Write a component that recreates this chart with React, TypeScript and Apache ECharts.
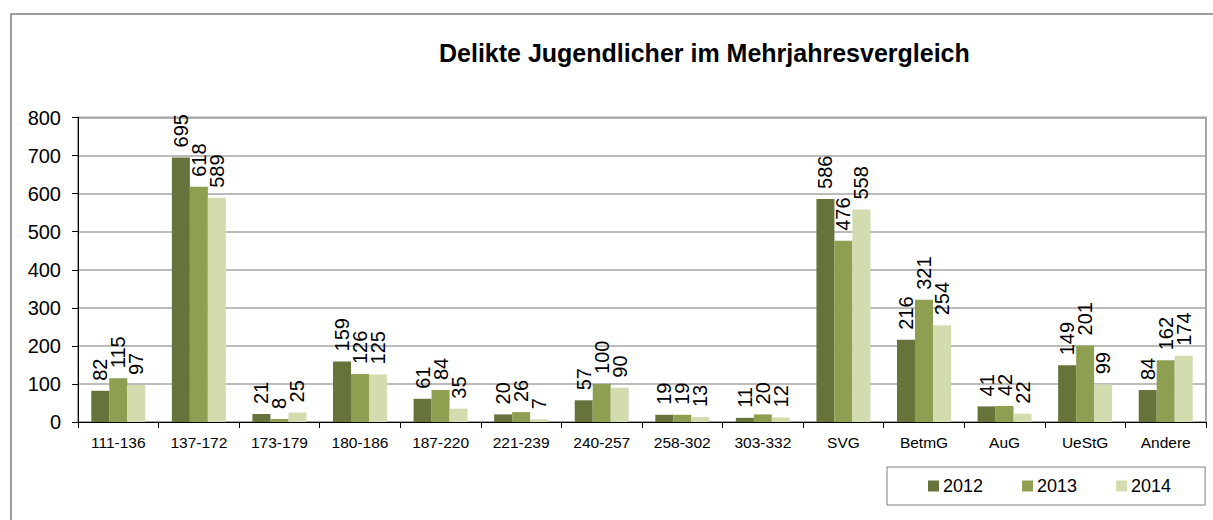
import React, { useEffect, useRef } from "react";
import * as echarts from "echarts";

const categories = ["111-136", "137-172", "173-179", "180-186", "187-220", "221-239", "240-257", "258-302", "303-332", "SVG", "BetmG", "AuG", "UeStG", "Andere"];
const values2012 = [82, 695, 21, 159, 61, 20, 57, 19, 11, 586, 216, 41, 149, 84];
const values2013 = [115, 618, 8, 126, 84, 26, 100, 19, 20, 476, 321, 42, 201, 162];
const values2014 = [97, 589, 25, 125, 35, 7, 90, 13, 12, 558, 254, 22, 99, 174];
const yTicks = [0, 100, 200, 300, 400, 500, 600, 700, 800];

const FONT = "'Liberation Sans', Arial, Helvetica, sans-serif";

export default function App() {
  const ref = useRef<HTMLDivElement>(null);
  useEffect(() => {
    const chart = echarts.init(ref.current!, null, { renderer: "svg" });
    const label = {
      show: true,
      position: "top",
      rotate: 90,
      align: "left",
      verticalAlign: "middle",
      distance: 10,
      fontSize: 20,
      color: "#000",
      fontFamily: FONT,
    };
    const mk = (name: string, data: number[], color: string) => ({
      name,
      type: "bar",
      data,
      barGap: "0%",
      barCategoryGap: "33%",
      itemStyle: { color },
      label,
    });
    chart.setOption({
      animation: false,
      textStyle: { fontFamily: FONT },
      title: {
        text: "Delikte Jugendlicher im Mehrjahresvergleich",
        left: 434,
        top: 35,
        textStyle: { fontSize: 25, fontWeight: "bold", color: "#000", fontFamily: FONT },
      },
      graphic: [
        {
          type: "rect",
          shape: { x: 11, y: 14, width: 1220, height: 530 },
          style: { fill: "none", stroke: "#7f7f7f", lineWidth: 1.5 },
          z: -1,
        },
      ],
      legend: {
        left: 887,
        top: 467,
        orient: "horizontal",
        icon: "rect",
        itemWidth: 11,
        itemHeight: 11,
        itemGap: 39,
        padding: [10, 34, 10, 41],
        borderColor: "#808080",
        borderWidth: 1,
        textStyle: { fontSize: 18, color: "#000", fontFamily: FONT, padding: [0, 0, 0, -1] },
        data: ["2012", "2013", "2014"],
      },
      grid: {
        left: 78,
        right: 7,
        top: 117.5,
        bottom: 98,
        show: true,
        borderColor: "#a6a6a6",
        borderWidth: 2,
        backgroundColor: "transparent",
      },
      xAxis: {
        type: "category",
        data: categories,
        axisLine: { show: true, lineStyle: { color: "#000", width: 1 } },
        axisTick: { show: true, interval: 0, length: 6, lineStyle: { color: "#000" } },
        axisLabel: { interval: 0, fontSize: 15.5, color: "#000", margin: 12, fontFamily: FONT },
      },
      yAxis: {
        type: "value",
        min: yTicks[0],
        max: yTicks[yTicks.length - 1],
        interval: 100,
        axisLine: { show: true, lineStyle: { color: "#000", width: 1 } },
        axisTick: { show: true, length: 6, lineStyle: { color: "#000" } },
        axisLabel: { fontSize: 20, color: "#000", margin: 17, fontFamily: FONT },
        splitLine: { show: true, lineStyle: { color: "#a6a6a6", width: 1.5 } },
      },
      series: [
        mk("2012", values2012, "#66733b"),
        mk("2013", values2013, "#8e9f52"),
        mk("2014", values2014, "#d3dcaf"),
      ],
    });
    return () => chart.dispose();
  }, []);
  return (
    <div
      ref={ref}
      style={{ position: "fixed", left: 0, top: 0, width: 1213, height: 520, background: "#fff" }}
    />
  );
}
